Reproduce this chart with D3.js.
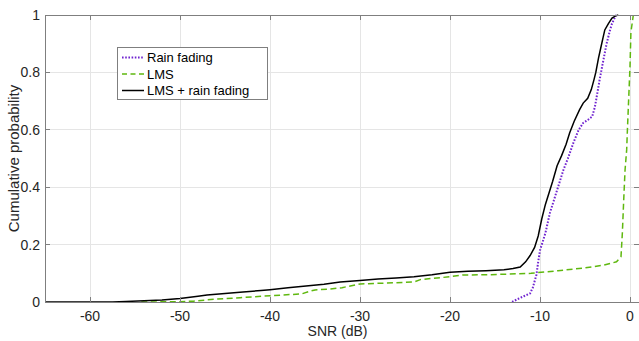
<!DOCTYPE html>
<html>
<head>
<meta charset="utf-8">
<script src="https://cdn.jsdelivr.net/npm/d3@7"></script>
<style>
  html, body { margin: 0; padding: 0; background: #fff; }
  svg { display: block; font-family: "Liberation Sans", Arial, sans-serif; }
</style>
</head>
<body>
<svg id="chart" width="639" height="341"></svg>
<script>
// ---- Data ----
const seriesNames = ["Rain fading", "LMS", "LMS + rain fading"];

const rainX = [-13.1, -12.5, -11.8, -11.1, -10.8, -10.4, -10.2, -10.0, -9.7, -9.4, -8.9, -8.5, -8.1, -7.4, -6.9, -6.3, -5.7, -5.2, -4.7, -4.2, -3.9, -3.7, -3.4, -3.1, -2.6, -2.2, -2.0, -1.55];
const rainP = [0, 0.01, 0.02, 0.03, 0.05, 0.094, 0.14, 0.18, 0.21, 0.24, 0.31, 0.35, 0.39, 0.46, 0.5, 0.554, 0.6, 0.624, 0.634, 0.646, 0.68, 0.715, 0.77, 0.82, 0.9, 0.95, 0.97, 1.0];

const lmsX = [-54.3, -50, -48.5, -46, -43.3, -40, -36.5, -35.5, -35, -33.3, -32, -30, -27, -24, -23.3, -22, -20, -18.6, -15.6, -11, -8, -5.2, -3, -1.5, -1.0, -0.85, -0.7, -0.55, -0.37, -0.3, 0.0, 0.1, 0.37];
const lmsP = [0, 0.001, 0.003, 0.01, 0.015, 0.022, 0.028, 0.038, 0.042, 0.045, 0.05, 0.063, 0.066, 0.07, 0.078, 0.082, 0.088, 0.094, 0.095, 0.1, 0.109, 0.118, 0.128, 0.14, 0.158, 0.24, 0.355, 0.46, 0.53, 0.59, 0.82, 0.94, 1.0];

const bothX = [-65, -57.5, -56, -54, -52, -50, -48, -47, -45, -43, -41, -40, -38, -36, -34, -32.2, -30, -28, -26, -24, -22, -20, -18, -16, -14, -13, -12.2, -11.6, -11.1, -10.6, -10.2, -9.8, -9.4, -9, -8.6, -8.1, -7.6, -7.1, -6.7, -6.2, -5.6, -5.2, -4.7, -4.3, -4.0, -3.8, -3.5, -3.3, -3.0, -2.8, -2.4, -2.0, -1.6, -1.3];
const bothP = [0, 0, 0.002, 0.004, 0.007, 0.012, 0.02, 0.024, 0.03, 0.035, 0.04, 0.043, 0.05, 0.056, 0.062, 0.07, 0.075, 0.08, 0.084, 0.088, 0.095, 0.104, 0.107, 0.109, 0.112, 0.117, 0.122, 0.14, 0.162, 0.19, 0.23, 0.29, 0.34, 0.38, 0.42, 0.475, 0.51, 0.55, 0.59, 0.63, 0.67, 0.693, 0.71, 0.74, 0.775, 0.8, 0.85, 0.878, 0.92, 0.948, 0.97, 0.989, 0.997, 1.0];

const xTicks = [-60, -50, -40, -30, -20, -10, 0];
const yTicks = [0, 0.2, 0.4, 0.6, 0.8, 1];
const xTickLabels = ["-60", "-50", "-40", "-30", "-20", "-10", "0"];
const yTickLabels = ["0", "0.2", "0.4", "0.6", "0.8", "1"];

// ---- Layout ----
const svg = d3.select("#chart");
const L = 45, R = 639, T = 15, B = 302;
const x = d3.scaleLinear().domain([-65, 1]).range([L, R]);
const y = d3.scaleLinear().domain([0, 1]).range([B, T]);

const gridColor = "#e5e5e5";
const axisColor = "#7f7f7f";

// grid
svg.append("g").selectAll("line").data(xTicks).join("line")
  .attr("x1", d => x(d)).attr("x2", d => x(d)).attr("y1", T).attr("y2", B)
  .attr("stroke", gridColor).attr("stroke-width", 1).attr("shape-rendering", "crispEdges");
svg.append("g").selectAll("line").data(yTicks).join("line")
  .attr("x1", L).attr("x2", R).attr("y1", d => y(d)).attr("y2", d => y(d))
  .attr("stroke", gridColor).attr("stroke-width", 1).attr("shape-rendering", "crispEdges");

// lines
const toPts = (xs, ps) => xs.map((v, i) => [v, ps[i]]);
const line = d3.line().x(d => x(d[0])).y(d => y(d[1]));

svg.append("clipPath").attr("id", "clip").append("rect")
  .attr("x", L).attr("y", T - 2).attr("width", R - L).attr("height", B - T + 4);

const plot = svg.append("g").attr("clip-path", "url(#clip)");

const purple = "#7024d0";
const green = "#5fb80f";

plot.append("path").datum(toPts(lmsX, lmsP)).attr("d", line)
  .attr("fill", "none").attr("stroke", green).attr("stroke-width", 1.5)
  .attr("stroke-dasharray", "6,3.5");
plot.append("path").datum(toPts(rainX, rainP)).attr("d", line)
  .attr("fill", "none").attr("stroke", purple).attr("stroke-width", 2)
  .attr("stroke-dasharray", "1.6,1.6");
plot.append("path").datum(toPts(bothX, bothP)).attr("d", line)
  .attr("fill", "none").attr("stroke", "#000").attr("stroke-width", 1.5);

// axes box and ticks
const axes = svg.append("g").attr("shape-rendering", "crispEdges");
axes.append("line").attr("x1", L).attr("x2", R).attr("y1", B + 0.5).attr("y2", B + 0.5).attr("stroke", axisColor);
axes.append("line").attr("x1", L).attr("x2", R).attr("y1", T + 0.5).attr("y2", T + 0.5).attr("stroke", axisColor);
axes.append("line").attr("x1", L + 0.5).attr("x2", L + 0.5).attr("y1", T).attr("y2", B + 1).attr("stroke", axisColor);

const tl = 5;
axes.selectAll(".xtb").data(xTicks).join("line")
  .attr("x1", d => x(d)).attr("x2", d => x(d)).attr("y1", B).attr("y2", B - tl).attr("stroke", axisColor);
axes.selectAll(".xtt").data(xTicks).join("line")
  .attr("x1", d => x(d)).attr("x2", d => x(d)).attr("y1", T).attr("y2", T + tl).attr("stroke", axisColor);
axes.selectAll(".ytl").data(yTicks).join("line")
  .attr("x1", L).attr("x2", L + tl).attr("y1", d => y(d)).attr("y2", d => y(d)).attr("stroke", axisColor);
axes.selectAll(".ytr").data(yTicks).join("line")
  .attr("x1", R - tl).attr("x2", R).attr("y1", d => y(d)).attr("y2", d => y(d)).attr("stroke", axisColor);

// tick labels
svg.append("g").selectAll("text").data(xTicks).join("text")
  .attr("x", d => x(d)).attr("y", 321)
  .attr("text-anchor", "middle").attr("font-size", 14).attr("fill", "#262626")
  .text((d, i) => xTickLabels[i]);
svg.append("g").selectAll("text").data(yTicks).join("text")
  .attr("x", 40).attr("y", d => y(d) + 5)
  .attr("text-anchor", "end").attr("font-size", 14).attr("fill", "#262626")
  .text((d, i) => yTickLabels[i]);

// axis labels
svg.append("text").attr("x", (L + 630) / 2).attr("y", 336)
  .attr("text-anchor", "middle").attr("font-size", 14).attr("fill", "#262626")
  .text("SNR (dB)");
svg.append("text").attr("transform", `translate(19,${(T + B) / 2}) rotate(-90)`)
  .attr("text-anchor", "middle").attr("font-size", 15).attr("fill", "#262626")
  .text("Cumulative probability");

// legend
const lg = svg.append("g");
lg.append("rect").attr("x", 117.5).attr("y", 47.5).attr("width", 150).attr("height", 52)
  .attr("fill", "#fff").attr("stroke", "#7f7f7f").attr("stroke-width", 1);
const legendStyles = [
  { color: purple, dash: "1.6,1.6", w: 2 },
  { color: green, dash: "5,3.5", w: 1.5 },
  { color: "#000", dash: null, w: 1.5 }
];
const rowsY = [57.5, 74, 90.5];
seriesNames.forEach((name, i) => {
  const s = legendStyles[i];
  const ln = lg.append("line").attr("x1", 122).attr("x2", 144).attr("y1", rowsY[i]).attr("y2", rowsY[i])
    .attr("stroke", s.color).attr("stroke-width", s.w);
  if (s.dash) ln.attr("stroke-dasharray", s.dash);
  lg.append("text").attr("x", 147).attr("y", rowsY[i] + 4.5)
    .attr("font-size", 13).attr("fill", "#000").text(name);
});
</script>
</body>
</html>
